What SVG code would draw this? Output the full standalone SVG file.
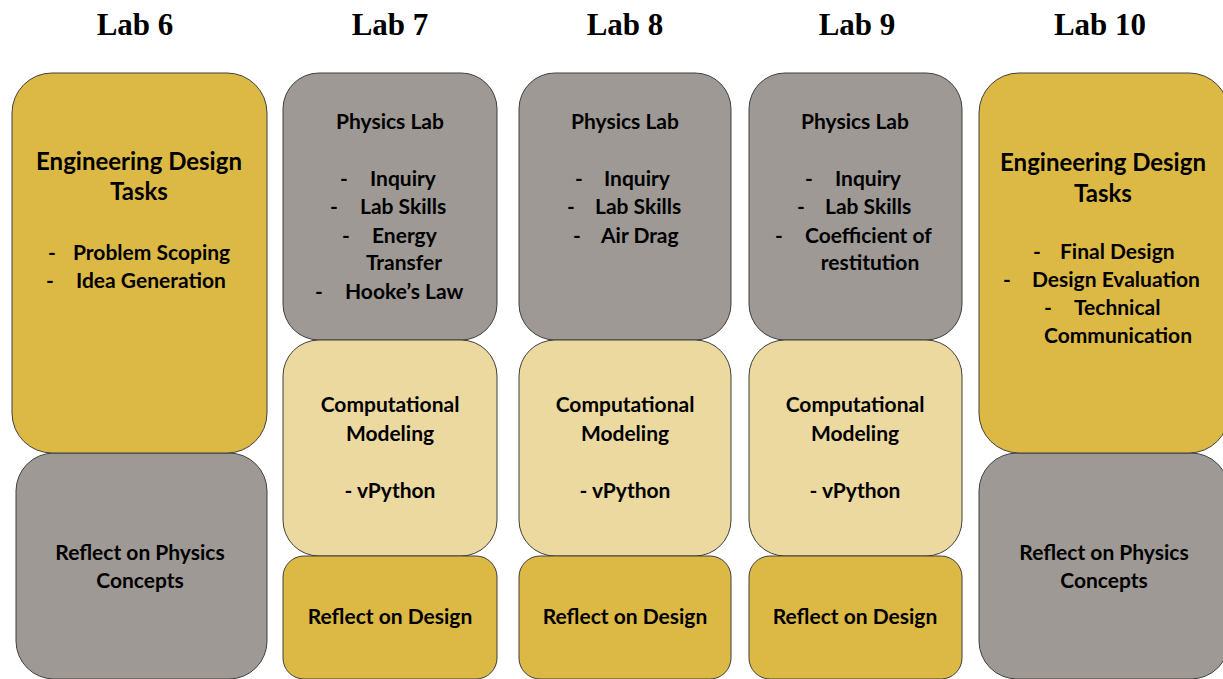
<svg xmlns="http://www.w3.org/2000/svg" width="1223" height="679" viewBox="0 0 1223 679">
<style>
.hd{font-family:"Liberation Serif","Times New Roman",serif;font-weight:bold;font-size:31px;fill:#000;text-anchor:middle}
.box{stroke:#3f3f3f;stroke-width:1}
.dy{fill:#dcb944}
.gy{fill:#9e9995}
.ly{fill:#ebd9a0}
.t{font-family:Lato,"Open Sans",sans-serif;font-weight:bold;font-size:21px;fill:#000;text-anchor:middle}
.tl{font-family:Lato,"Open Sans",sans-serif;font-weight:bold;font-size:24px;fill:#000;text-anchor:middle}
.b{text-anchor:start}
</style>
<rect width="1223" height="679" fill="#fff"/>
<g id="headers">
<text class="hd" x="135" y="35">Lab 6</text>
<text class="hd" x="390" y="35">Lab 7</text>
<text class="hd" x="625" y="35">Lab 8</text>
<text class="hd" x="857" y="35">Lab 9</text>
<text class="hd" x="1100" y="35">Lab 10</text>
</g>
<g id="connectors"/>
<g id="lab6-reflect">
<rect class="box gy" x="16" y="453" width="251" height="226" rx="38"/>
<text class="t" x="140" y="560">Reflect on Physics</text>
<text class="t" x="140" y="588">Concepts</text>
</g>
<g id="lab6-design">
<rect class="box dy" x="12" y="73" width="255" height="380" rx="40"/>
<text class="tl" x="139" y="170">Engineering Design</text>
<text class="tl" x="139" y="200">Tasks</text>
<text class="t b" x="48" y="260">-</text><text class="t b" x="73" y="260">Problem Scoping</text>
<text class="t b" x="46" y="288">-</text><text class="t b" x="76" y="288">Idea Generation</text>
</g>
<g id="lab7-physics">
<rect class="box gy" x="283" y="73" width="214" height="267" rx="36"/>
<text class="t" x="390" y="129">Physics Lab</text>
<text class="t b" x="340" y="186">-</text><text class="t b" x="370" y="186">Inquiry</text>
<text class="t b" x="330" y="214">-</text><text class="t b" x="360" y="214">Lab Skills</text>
<text class="t b" x="342" y="243">-</text><text class="t b" x="372" y="243">Energy</text>
<text class="t" x="404" y="270">Transfer</text>
<text class="t b" x="315" y="299">-</text><text class="t b" x="345" y="299">Hooke’s Law</text>
</g>
<g id="lab7-model">
<rect class="box ly" x="283" y="340" width="214" height="216" rx="36"/>
<text class="t" x="390" y="412">Computational</text>
<text class="t" x="390" y="441">Modeling</text>
<text class="t" x="390" y="498">- vPython</text>
</g>
<g id="lab7-reflect">
<rect class="box dy" x="283" y="556" width="214" height="123" rx="21"/>
<text class="t" x="390" y="624">Reflect on Design</text>
</g>
<g id="lab8-physics">
<rect class="box gy" x="519" y="73" width="212" height="267" rx="36"/>
<text class="t" x="625" y="129">Physics Lab</text>
<text class="t b" x="575" y="186">-</text><text class="t b" x="604" y="186">Inquiry</text>
<text class="t b" x="567" y="214">-</text><text class="t b" x="595" y="214">Lab Skills</text>
<text class="t b" x="573" y="243">-</text><text class="t b" x="601" y="243">Air Drag</text>
</g>
<g id="lab8-model">
<rect class="box ly" x="519" y="340" width="212" height="216" rx="36"/>
<text class="t" x="625" y="412">Computational</text>
<text class="t" x="625" y="441">Modeling</text>
<text class="t" x="625" y="498">- vPython</text>
</g>
<g id="lab8-reflect">
<rect class="box dy" x="519" y="556" width="212" height="123" rx="21"/>
<text class="t" x="625" y="624">Reflect on Design</text>
</g>
<g id="lab9-physics">
<rect class="box gy" x="749" y="73" width="213" height="267" rx="36"/>
<text class="t" x="855" y="129">Physics Lab</text>
<text class="t b" x="805" y="186">-</text><text class="t b" x="835" y="186">Inquiry</text>
<text class="t b" x="797" y="214">-</text><text class="t b" x="825" y="214">Lab Skills</text>
<text class="t b" x="775" y="243">-</text><text class="t b" x="805" y="243">Coefficient of</text>
<text class="t" x="870" y="270">restitution</text>
</g>
<g id="lab9-model">
<rect class="box ly" x="749" y="340" width="213" height="216" rx="36"/>
<text class="t" x="855" y="412">Computational</text>
<text class="t" x="855" y="441">Modeling</text>
<text class="t" x="855" y="498">- vPython</text>
</g>
<g id="lab9-reflect">
<rect class="box dy" x="749" y="556" width="213" height="123" rx="21"/>
<text class="t" x="855" y="624">Reflect on Design</text>
</g>
<g id="lab10-reflect">
<rect class="box gy" x="979" y="453" width="250" height="226" rx="38"/>
<text class="t" x="1104" y="560">Reflect on Physics</text>
<text class="t" x="1104" y="588">Concepts</text>
</g>
<g id="lab10-design">
<rect class="box dy" x="979" y="73" width="250" height="380" rx="40"/>
<text class="tl" x="1103" y="171">Engineering Design</text>
<text class="tl" x="1103" y="202">Tasks</text>
<text class="t b" x="1033" y="259">-</text><text class="t b" x="1060" y="259">Final Design</text>
<text class="t b" x="1003" y="287">-</text><text class="t b" x="1032" y="287">Design Evaluation</text>
<text class="t b" x="1044" y="315">-</text><text class="t b" x="1074" y="315">Technical</text>
<text class="t" x="1118" y="343">Communication</text>
</g>
</svg>
